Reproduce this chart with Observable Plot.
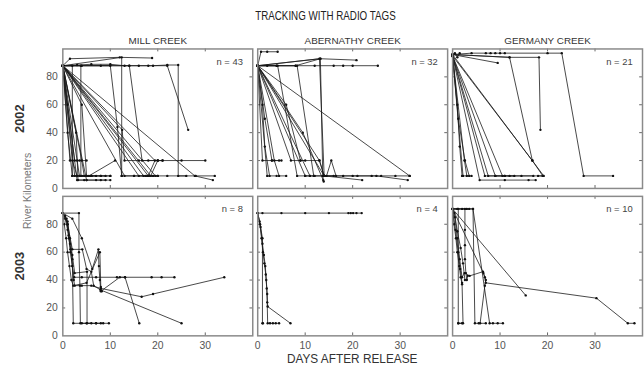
<!DOCTYPE html>
<html>
<head>
<meta charset="utf-8">
<script src="https://cdn.jsdelivr.net/npm/d3@7"></script>
<script src="https://cdn.jsdelivr.net/npm/@observablehq/plot@0.6"></script>
<style>
  html, body { margin: 0; padding: 0; background: #fff; overflow: hidden; }
  #chart { width: 644px; height: 370px; overflow: hidden; }
</style>
</head>
<body>
<div id="chart"></div>
<script>
const creeks = ["MILL CREEK", "ABERNATHY CREEK", "GERMANY CREEK"];
const years = [2002, 2003];
const tagCounts2002 = [43, 32, 21];
const tagCounts2003 = [8, 4, 10];
const xTicks = [0, 10, 20, 30];
const yTicks = [0, 20, 40, 60, 80];

// Each track: [day after release, river kilometer]
const mill2002 = [
  [[0,88],[1.5,93],[12,94],[18.8,93.5]],
  [[0,88],[3,88.5],[6,89],[10,89],[13,88],[16,88],[19,88],[22,88.5],[24.3,88.5],[24.3,9],[28,9],[32,9]],
  [[0,88],[4,88],[8,88],[14,88],[18,88],[22,88],[26.4,42]],
  [[0,88],[3.8,88],[3.8,9],[6,9],[8,9],[10,9]],
  [[0,88],[12.4,94],[12.4,9],[15,9],[18,9],[20,9]],
  [[0,88],[14,88],[16.7,20],[18,20],[20,20],[21,20]],
  [[0,88],[27.8,9],[31.6,6]],
  [[0,88],[17,9],[19,9]],
  [[0,88],[18,9],[20,9]],
  [[0,88],[19.5,9]],
  [[0,88],[12.5,42],[13,20],[16,20],[20,20],[25,20],[30,20]],
  [[0,88],[1.5,20],[3,20],[5,20]],
  [[0,88],[2,20],[3,9],[6,9]],
  [[0,88],[2.5,9],[5,9],[8,9],[10,9]],
  [[0,88],[3,6],[5,6],[7,6],[9,6]],
  [[0,88],[4,20],[4.5,9],[5.5,9],[11,20]],
  [[0,88],[3.5,9],[6,9],[9,9]],
  [[0,88],[5,6],[8,6],[10,6]],
  [[0,88],[1,40],[2,9],[4,9]],
  [[0,88],[4,60],[5,9],[7,9]],
  [[0,88],[18.5,9],[20,20],[21,20]],
  [[0,88],[13,9],[15,9],[18,9],[22,9],[26,9]],
  [[0,88],[10,88],[11.5,44],[12.4,9]],
  [[0,88],[2,88],[2,9],[3,9]],
  [[0,88],[1,60],[2.5,20],[3.5,20]],
  [[0,88],[19.4,20],[18,9]],
  [[0,88],[16,9],[17.5,9]],
  [[0,88],[2.8,40],[3.2,6],[4.5,6]]
];
const abernathy2002 = [
  [[0,88],[0.7,98],[2,98],[4.2,98]],
  [[0,88],[13.2,93],[20.8,92]],
  [[0,88],[2,88],[4,88],[8,88],[12,88],[16,88],[18,88],[20,88],[25.3,88]],
  [[0,88],[4,88],[8,88],[13.2,93],[13.7,9],[13.9,5]],
  [[0,88],[32,9]],
  [[0,88],[14,9],[20,9],[25,9],[31.6,6]],
  [[0,88],[1,20],[3,20],[5,20]],
  [[0,88],[2,9],[4,9]],
  [[0,88],[4.2,88],[8.3,9],[10,9],[12,9]],
  [[0,88],[8.3,88],[11.8,9],[14,9],[16,9]],
  [[0,88],[6,60],[9,20],[13,20],[14,9]],
  [[0,88],[7,20],[9,20],[10,20]],
  [[0,88],[3.5,20],[4.5,9],[6,9]],
  [[0,88],[11,9],[14.5,9],[15.5,20],[16.5,9]],
  [[0,88],[13,20],[14,9],[18,9],[21,9],[24,9],[26,9],[29,9],[32,9]],
  [[0,88],[9.5,40],[13.8,6]],
  [[0,88],[13,93],[14,9],[22,6]],
  [[0,88],[1,60],[1.5,30],[2.5,9]],
  [[0,88],[1.5,50],[3,20],[4.5,20]],
  [[0,88],[10,9],[11,9]]
];
const germany2002 = [
  [[0,96],[4,97],[7,97],[8,97],[9,97],[10,97],[11,97],[20,97],[23,97],[27.6,9],[33.8,9]],
  [[0,96],[12,94],[16.8,20],[19,9]],
  [[0,96],[12,94],[18.2,94],[18.5,42]],
  [[0,96],[9.5,90]],
  [[0,96],[19.2,9],[18,9]],
  [[0,95],[16.8,20]],
  [[0,95],[6.8,9],[9,9],[11,9]],
  [[0,95],[9,9],[11,9],[13,9]],
  [[0,95],[10.5,9],[14.5,9],[17,9]],
  [[0,95],[2.2,9],[4,9]],
  [[0,95],[2.5,20],[3,9]],
  [[0,95],[5.7,6],[11,6],[16,6],[17.5,6]],
  [[0,95],[1,60],[1.5,30],[2,9]],
  [[0,95],[0.5,97],[1,94],[1.5,97]],
  [[0,95],[7.5,9],[12,9],[19,9]],
  [[0,95],[1.2,50],[2.6,20],[3.5,9]]
];
const mill2003 = [
  [[0,88],[0.5,86],[1,80],[1.3,70],[1.6,60],[2,50],[2.3,40],[2.5,36],[4,36],[6,36],[8,34],[16.6,28],[19,30],[34,42]],
  [[0,88],[3.4,88],[3.4,60],[3.6,36],[3.7,9],[5,9],[7,9],[8,9],[9.7,9]],
  [[0,88],[0.8,84],[1.2,72],[1.6,62],[2,50],[2.4,42],[4,42],[7,42],[11.4,42],[13.1,42],[18.7,42],[20.8,42],[23.5,42]],
  [[0,88],[1,80],[2,62],[4.1,62],[5,48],[6,46],[6.5,36],[7.9,33],[25,9]],
  [[0,88],[0.5,84],[1,76],[1.5,66],[2,55],[2.2,9],[4,9],[6,9]],
  [[0,88],[2,84],[4,70],[6.2,48],[7.5,62],[7.6,50],[7.8,40],[8,32],[12,42],[13.1,42],[16.1,9]],
  [[0,88],[1,82],[1.5,70],[2,58],[2.5,45],[5.1,46],[5.1,9],[7,9],[8.5,9]],
  [[0,88],[0.3,80],[0.7,70],[1,60],[1.4,50],[1.8,40],[2.2,36],[5,38],[7.8,60],[8,35],[8.2,32]]
];
const abernathy2003 = [
  [[0,88],[1,88],[5,88],[10,88],[15,88],[19.1,88],[19.6,88],[20.1,88],[20.8,88],[21.9,88]],
  [[0,88],[0.5,80],[1,70],[1,9],[1.1,9]],
  [[0,88],[0.6,78],[1,66],[1.3,58],[1.6,50],[1.8,40],[2,30],[2.1,21],[6.9,9]],
  [[0,88],[0.4,82],[0.8,70],[1.1,60],[1.4,52],[1.7,44],[1.9,34],[2,24],[2.1,9],[2.6,9],[3.2,9],[3.8,9],[4.5,9]]
];
const germany2003 = [
  [[0,91],[1,91],[2,91],[3,91],[4.3,91],[4.7,9],[5.5,9]],
  [[0,91],[15.4,29]],
  [[0,91],[0.5,85],[1,70],[1.5,55],[2,42],[2.5,45],[3.6,43],[6.4,46],[6.8,42],[7,38],[30.3,27],[36.9,9],[38.3,9]],
  [[0,91],[2.6,91],[2.6,76],[2.6,65],[2.6,55],[2.8,45],[3,40],[3.2,43]],
  [[0,91],[3.5,91],[4.3,91],[7.8,9],[8.5,9],[9.5,9],[10.6,9]],
  [[0,91],[0.3,80],[0.7,70],[1,60],[1.4,50],[1.7,42],[2,37],[2.2,9],[1.2,9]],
  [[0,91],[1.2,91],[1.2,9],[2,9]],
  [[0,91],[0.6,76],[1.2,60],[1.6,48],[2,38]],
  [[0,91],[0.4,88],[1,75],[1.7,63],[2.2,52],[2.6,40]],
  [[0,91],[6.5,45],[7,40],[6.8,36],[5.8,9],[7,9]]
];

const panels = [
  {creek: creeks[0], year: years[0], n: tagCounts2002[0], tracks: mill2002},
  {creek: creeks[1], year: years[0], n: tagCounts2002[1], tracks: abernathy2002},
  {creek: creeks[2], year: years[0], n: tagCounts2002[2], tracks: germany2002},
  {creek: creeks[0], year: years[1], n: tagCounts2003[0], tracks: mill2003},
  {creek: creeks[1], year: years[1], n: tagCounts2003[1], tracks: abernathy2003},
  {creek: creeks[2], year: years[1], n: tagCounts2003[2], tracks: germany2003}
];
const rows = panels.flatMap(p => p.tracks.flatMap((t, i) =>
  t.map(([day, rkm]) => ({creek: p.creek, year: p.year, id: `${p.creek}-${p.year}-${i}`, day, rkm}))));

const FONT = '"Liberation Sans", Arial, sans-serif';

const plot = Plot.plot({
  width: 651, height: 370,
  marginLeft: 62, marginRight: 0, marginTop: 48, marginBottom: 30,
  style: {fontFamily: FONT, background: "white", overflow: "visible"},
  x: {domain: [0, 40]},
  y: {domain: [0, 100]},
  fx: {domain: creeks, padding: 0.02525, label: null, axis: null},
  fy: {domain: years, padding: 0.0533, label: null, axis: null},
  marks: [
    Plot.ruleX(xTicks.slice(1), {x: d => d, y1: 100, y2: 97.9, stroke: "#666", strokeWidth: 1}),
    Plot.ruleX(xTicks.slice(1), {x: d => d, y1: 0, y2: 2.1, stroke: "#666", strokeWidth: 1}),
    Plot.ruleY(yTicks.slice(1), {y: d => d, x1: 0, x2: 0.6, stroke: "#666", strokeWidth: 1}),
    Plot.ruleY(yTicks.slice(1), {y: d => d, x1: 40, x2: 39.4, stroke: "#666", strokeWidth: 1}),
    Plot.line(rows, {x: "day", y: "rkm", z: "id", fx: "creek", fy: "year", stroke: "#1a1a1a", strokeWidth: 0.8}),
    Plot.dot(rows, {x: "day", y: "rkm", fx: "creek", fy: "year", r: 1.2, fill: "#111", stroke: null}),
    Plot.frame({stroke: "#8a8a8a", strokeWidth: 1.5}),
    Plot.text(panels, {fx: "creek", fy: "year", text: d => `n = ${d.n}`, frameAnchor: "top-right",
      dx: -10, dy: 9, fontSize: 9.5, fill: "#444"}),
    Plot.text(years.map(y => ({creek: creeks[0], year: y})), {fx: "creek", fy: "year",
      text: d => String(d.year), frameAnchor: "left", textAnchor: "middle", rotate: -90,
      dx: -43, fontSize: 13, fontWeight: "bold", fill: "#333"}),
    Plot.axisY({ticks: yTicks, tickSize: 0, tickPadding: 5, label: null, fontSize: 10.5, color: "#555"}),
    Plot.axisX({ticks: xTicks, tickSize: 0, tickPadding: 6, label: null, fontSize: 10.5, color: "#555"}),
    Plot.axisFx({anchor: "top", tickSize: 0, tickPadding: 5, label: null, fontSize: 10, color: "#333"})
  ]
});

const svg = d3.select(plot);
svg.append("text")
  .attr("x", 329).attr("y", 20)
  .attr("text-anchor", "middle")
  .attr("font-size", 12.5).attr("fill", "#222")
  .attr("font-family", FONT)
  .attr("textLength", 142).attr("lengthAdjust", "spacingAndGlyphs")
  .text("TRACKING WITH RADIO TAGS");
svg.append("text")
  .attr("transform", "translate(31,193) rotate(-90)")
  .attr("text-anchor", "middle")
  .attr("font-size", 10.5).attr("fill", "#777")
  .attr("font-family", FONT)
  .text("River Kilometers");
svg.append("text")
  .attr("x", 356).attr("y", 367)
  .attr("text-anchor", "middle")
  .attr("font-size", 12).attr("fill", "#333")
  .attr("font-family", FONT)
  .attr("textLength", 132).attr("lengthAdjust", "spacingAndGlyphs")
  .text("DAYS AFTER RELEASE");

document.getElementById("chart").appendChild(plot);
</script>
</body>
</html>
